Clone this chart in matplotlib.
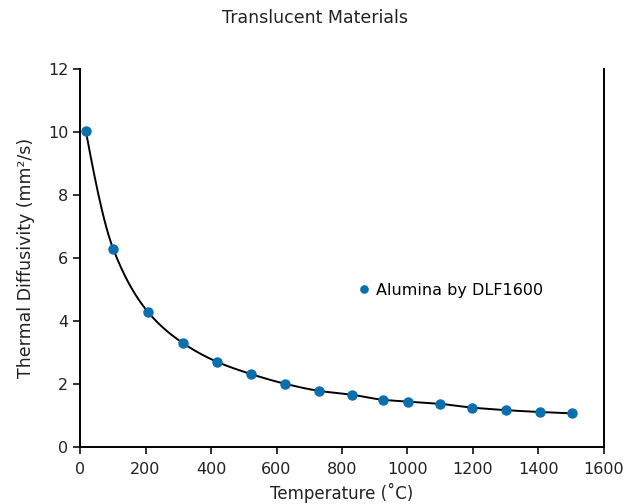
import numpy as np
import matplotlib
matplotlib.use("Agg")
import matplotlib.pyplot as plt

# Alumina by DLF1600
temperature = [18, 101, 208, 314, 417, 521, 625, 731, 830, 924, 1001, 1099, 1198, 1301, 1405, 1501]
diffusivity = [10.02, 6.30, 4.28, 3.30, 2.71, 2.32, 2.01, 1.78, 1.66, 1.50, 1.44, 1.37, 1.25, 1.17, 1.11, 1.07]

x_ticks = [0, 200, 400, 600, 800, 1000, 1200, 1400, 1600]
y_ticks = [0, 2, 4, 6, 8, 10, 12]

POINT_COLOR = '#0a6fae'


def smooth_line(x, y, n=400):
    # monotone cubic (Fritsch-Carlson) through the measured points
    x = np.asarray(x, float)
    y = np.asarray(y, float)
    h = np.diff(x)
    d = np.diff(y) / h
    m = np.zeros_like(y)
    for i in range(1, len(x) - 1):
        if d[i - 1] * d[i] > 0:
            w1 = 2 * h[i] + h[i - 1]
            w2 = h[i] + 2 * h[i - 1]
            m[i] = (w1 + w2) / (w1 / d[i - 1] + w2 / d[i])
    m[0] = ((2 * h[0] + h[1]) * d[0] - h[0] * d[1]) / (h[0] + h[1])
    m[-1] = ((2 * h[-1] + h[-2]) * d[-1] - h[-1] * d[-2]) / (h[-1] + h[-2])
    xs = np.linspace(x[0], x[-1], n)
    idx = np.clip(np.searchsorted(x, xs) - 1, 0, len(x) - 2)
    t = (xs - x[idx]) / h[idx]
    h00 = 2 * t**3 - 3 * t**2 + 1
    h10 = t**3 - 2 * t**2 + t
    h01 = -2 * t**3 + 3 * t**2
    h11 = t**3 - t**2
    ys = h00 * y[idx] + h10 * h[idx] * m[idx] + h01 * y[idx + 1] + h11 * h[idx] * m[idx + 1]
    return xs, ys


plt.rcParams['font.family'] = ['DejaVu Sans']
fig = plt.figure(figsize=(6.31, 5.04), dpi=100)
ax = fig.add_axes([0.1268, 0.1131, 0.8304, 0.75])

xs, ys = smooth_line(temperature, diffusivity)
ax.plot(xs, ys, color='black', linewidth=1.4, zorder=2)
ax.plot(temperature, diffusivity, 'o', color=POINT_COLOR, markersize=6.5,
        label='Alumina by DLF1600', zorder=3)

ax.set_xlim(0, 1600)
ax.set_ylim(0, 12)
ax.set_xticks(x_ticks)
ax.set_yticks(y_ticks)
ax.tick_params(axis='both', direction='out', length=5, width=1.3,
               labelsize=11.5, colors='#222222')
ax.tick_params(axis='x', pad=6)
ax.spines['top'].set_visible(False)
for side in ['left', 'bottom', 'right']:
    ax.spines[side].set_linewidth(1.4)
    ax.spines[side].set_color('black')

ax.set_xlabel('Temperature (˚C)', fontsize=12, color='#222222', labelpad=4)
ax.set_ylabel('Thermal Diffusivity (mm²/s)', fontsize=12.5, color='#222222', labelpad=9)
fig.suptitle('Translucent Materials', fontsize=12.5, color='#222222', y=0.982)

ax.legend(loc='center left', bbox_to_anchor=(0.497, 0.415), frameon=False,
          handletextpad=0.1, fontsize=11.5, handlelength=1.2, markerscale=0.8)

fig.savefig('out.png', dpi=100)
